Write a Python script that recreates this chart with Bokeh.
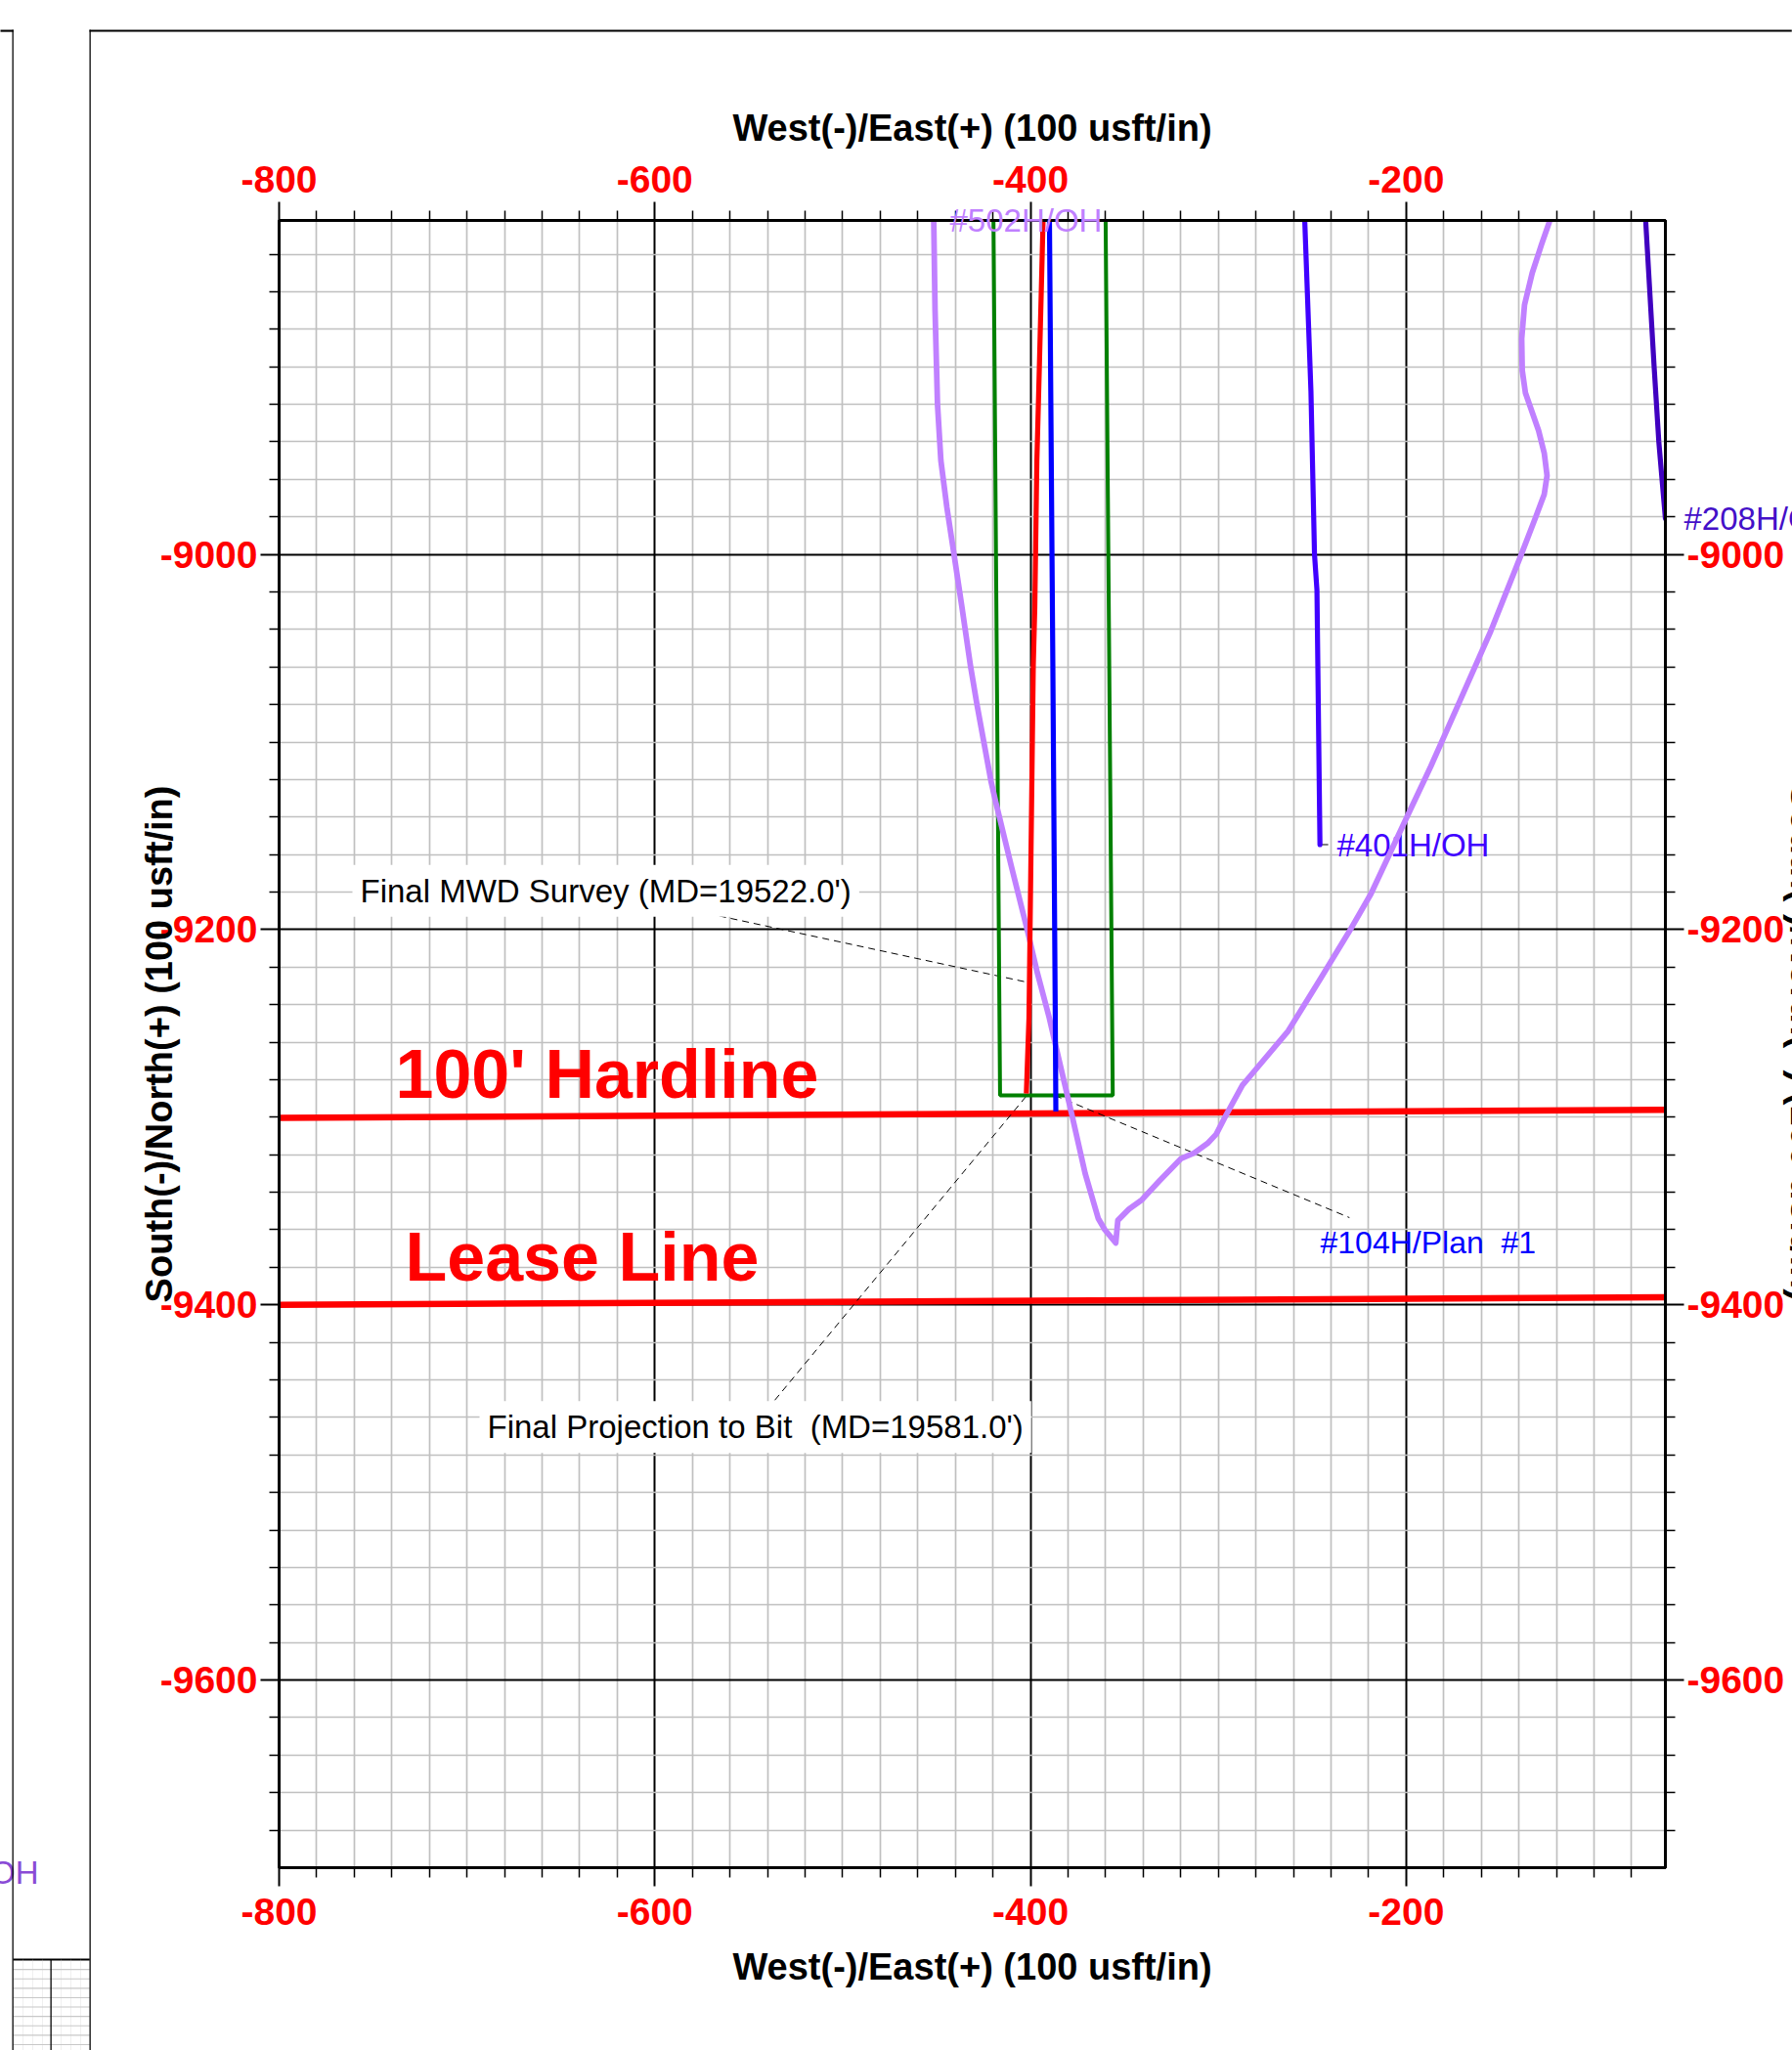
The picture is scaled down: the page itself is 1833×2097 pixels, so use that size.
from bokeh.plotting import figure
from bokeh.models import Range1d, LinearAxis, FixedTicker, Label
from bokeh.embed import file_html
from bokeh.resources import INLINE
from bokeh.core.properties import value

FONT = "Liberation Sans"

# ---------------- axes / ticks ----------------
x_start, x_end = -800, -62
y_start, y_end = -9700, -8822
x_major_ticks = [-800, -600, -400, -200]
x_tick_labels = ["-800", "-600", "-400", "-200"]
y_major_ticks = [-9600, -9400, -9200, -9000]
y_tick_labels = ["-9600", "-9400", "-9200", "-9000"]
x_minor_ticks = [v for v in range(-780, -60, 20) if v not in x_major_ticks]
y_minor_ticks = [v for v in range(-9680, -8820, 20) if v not in y_major_ticks]
x_title = "West(-)/East(+) (100 usft/in)"
y_title = "South(-)/North(+) (100 usft/in)"

# ---------------- well paths ----------------
w502_x = [-451.5, -450.8, -449.5, -447.7, -444.5, -440.7, -436.5, -432.0, -428.5, -421.0,
          -418.5, -410.0, -401.5, -396.6, -390.0, -387.0, -377.9, -370.9, -363.9, -360.4,
          -354.6, -353.5, -347.6, -340.7, -331.4, -319.8, -312.8, -305.8, -301.1, -296.5,
          -287.2, -262.8, -245.5, -230.3, -218.8, -200.1, -186.9, -172.7, -155.0, -138.7,
          -131.0, -126.5, -125.0, -126.5, -129.5, -133.0, -136.5, -138.2, -138.5, -137.0,
          -132.9, -128.0, -123.5]
w502_y = [-8822, -8870, -8920, -8950, -8975, -9000, -9028, -9059, -9080, -9121,
          -9132, -9167, -9201, -9222, -9247, -9260, -9299, -9330, -9354, -9360,
          -9367, -9355, -9349, -9344, -9334, -9322, -9319, -9314, -9309, -9300,
          -9283, -9254, -9226, -9201, -9181, -9141, -9113, -9081, -9041, -9000,
          -8980, -8968, -8958, -8946, -8934, -8924, -8914, -8902, -8885, -8867,
          -8850, -8835, -8822]

target_x = [-419.7, -416.2, -356.2, -360.0]
target_y = [-8822, -9288.3, -9288.3, -8822]

survey_x = [-393.3, -395.3, -396.6, -397.7, -398.5, -400.8, -402.2]
survey_y = [-8822, -8901, -8950, -9028, -9059, -9247, -9287.4]

plan104_x = [-389.9, -388.1, -386.8, -386.5]
plan104_y = [-8822, -9059, -9247, -9297]

w401_x = [-254.0, -250.7, -248.8, -247.5, -245.9]
w401_y = [-8822, -8913, -9000, -9019, -9154.7]

w208_x = [-72.5, -68.0, -65.5, -62.0]
w208_y = [-8822, -8900, -8940, -8981]

hardline_x = [-800, -62]
hardline_y = [-9300.4, -9296.0]
lease_x = [-800, -62]
lease_y = [-9400.0, -9396.0]

# leader lines of the annotations
mwd_leader_x = [-565.7, -400.1]
mwd_leader_y = [-9192.7, -9228.4]
proj_leader_x = [-536.1, -401.2]
proj_leader_y = [-9450.8, -9287.5]
plan_leader_x = [-387.0, -230.2]
plan_leader_y = [-9288.4, -9353.5]
w401_tick_x = [-245.9, -241.5]
w401_tick_y = [-9154.7, -9154.7]

# ---------------- figure ----------------
FRAME_L, FRAME_T, FRAME_W, FRAME_H = 285, 225, 1418, 1685   # page pixels
PAGE_W, PAGE_H = 1833, 2097

p = figure(frame_width=FRAME_W, frame_height=FRAME_H,
           min_border_left=FRAME_L, min_border_top=FRAME_T,
           min_border_right=PAGE_W - FRAME_L - FRAME_W,
           min_border_bottom=PAGE_H - FRAME_T - FRAME_H,
           x_range=Range1d(x_start, x_end), y_range=Range1d(y_start, y_end),
           output_backend="svg", toolbar_location=None,
           background_fill_color="white", border_fill_color="white",
           outline_line_color="black", outline_line_width=3)

def page_x(X):
    return x_start + (X - FRAME_L) * (x_end - x_start) / FRAME_W

def page_y(Y):
    return y_end - (Y - FRAME_T) * (y_end - y_start) / FRAME_H

xt = FixedTicker(ticks=x_major_ticks, minor_ticks=x_minor_ticks)
yt = FixedTicker(ticks=y_major_ticks, minor_ticks=y_minor_ticks)

for g, t in ((p.xgrid[0], xt), (p.ygrid[0], yt)):
    g.ticker = t
    g.grid_line_color = "black"
    g.grid_line_width = 2
    g.minor_grid_line_color = "#c0c0c0"
    g.minor_grid_line_width = 1.7

p.add_layout(LinearAxis(), "above")
p.add_layout(LinearAxis(), "right")

def style_axis(ax, ticker, ticks, labels):
    ax.ticker = ticker
    ax.major_label_overrides = dict(zip(ticks, labels))
    ax.major_label_text_font = FONT
    ax.major_label_text_font_style = "bold"
    ax.major_label_text_font_size = "39px"
    ax.major_label_text_color = "#ff0000"
    ax.major_tick_in = 0
    ax.major_tick_out = 19
    ax.minor_tick_in = 0
    ax.minor_tick_out = 10
    ax.major_tick_line_width = 2
    ax.minor_tick_line_width = 1.5
    ax.major_tick_line_color = "black"
    ax.minor_tick_line_color = "black"
    ax.axis_line_width = 3
    ax.axis_line_color = "black"
    ax.axis_label_text_font = FONT
    ax.axis_label_text_font_style = "bold"
    ax.axis_label_text_font_size = "38px"
    ax.axis_label_text_color = "black"

for ax in p.below + p.above:
    style_axis(ax, xt, x_major_ticks, x_tick_labels)
for ax in p.left + p.right:
    style_axis(ax, yt, y_major_ticks, y_tick_labels)

p.below[0].axis_label = x_title
p.below[0].major_label_standoff = 12
p.below[0].axis_label_standoff = 19
p.above[0].axis_label = x_title
p.above[0].major_label_standoff = 10
p.above[0].axis_label_standoff = 15
p.left[0].axis_label = y_title
p.left[0].major_label_standoff = 3
p.left[0].axis_label_standoff = -23
p.right[0].major_label_standoff = 3

# ---------------- glyphs ----------------
p.line(hardline_x, hardline_y, line_color="#ff0000", line_width=6.5)
p.line(lease_x, lease_y, line_color="#ff0000", line_width=6.5)

p.text(x=[page_x(1367)], y=[page_y(863.6)], text=["#401H/OH"], text_color="#4000ff",
       text_font=value(FONT), text_font_size="33px", text_baseline="middle")
p.text(x=[page_x(1350)], y=[page_y(1270.9)], text=["#104H/Plan \u00a0#1"], text_color="#0000ff",
       text_font=value(FONT), text_font_size="32px", text_baseline="middle")
p.text(x=[page_x(404)], y=[page_y(1098.9)], text=["100' Hardline"], text_color="#ff0000",
       text_font=value(FONT), text_font_style="bold", text_font_size="70px",
       text_baseline="middle")
p.text(x=[page_x(414)], y=[page_y(1285.8)], text=["Lease Line"], text_color="#ff0000",
       text_font=value(FONT), text_font_style="bold", text_font_size="70px",
       text_baseline="middle")

for lx, ly in ((mwd_leader_x, mwd_leader_y), (proj_leader_x, proj_leader_y),
               (plan_leader_x, plan_leader_y)):
    p.line(lx, ly, line_color="black", line_width=1, line_dash="7 5")
p.line(w401_tick_x, w401_tick_y, line_color="black", line_width=1)

p.line(target_x, target_y, line_color="#008000", line_width=4)
p.line(w502_x, w502_y, line_color="#c080ff", line_width=5.8, line_cap="round", line_join="round")
p.line(w401_x, w401_y, line_color="#4000ff", line_width=5.2, line_cap="round")
p.line(w208_x, w208_y, line_color="#4000c0", line_width=5.2, line_cap="round")
p.line(plan104_x, plan104_y, line_color="#0000ff", line_width=5.2)
p.line(survey_x, survey_y, line_color="#ff0000", line_width=5.2)

# ---------------- annotations inside the frame ----------------
p.add_layout(Label(x=page_x(368 - 8), y=page_y(910.8), text="Final MWD Survey (MD=19522.0')",
                   text_font=FONT, text_font_size="33px", text_color="black",
                   text_baseline="middle", background_fill_color="white", padding=8))
p.add_layout(Label(x=page_x(498 - 8), y=page_y(1459.2),
                   text="Final Projection to Bit \u00a0(MD=19581.0')",
                   text_font=FONT, text_font_size="33px", text_color="black",
                   text_baseline="middle", background_fill_color="white", padding=8))

# ---------------- texts / sheet frame outside the frame (canvas units, side panels) ----------------
def canvas_label(panel, X, Y, text, color, align="left"):
    p.add_layout(Label(x=X, y=Y, x_units="canvas", y_units="canvas", text=text,
                       text_align=align, text_baseline="middle", text_font=FONT,
                       text_font_size="33px", text_color=color), panel)

canvas_label("above", 971, 225, "#502H/OH", "#c080ff")
canvas_label("above", 1722, 530.4, "#208H/OH", "#4410c8")
canvas_label("left", 39, 1915, "OH", "#8a4bd6", align="right")

# right-hand axis title, mostly beyond the page edge as in the reference
p.add_layout(Label(x=1844, y=1066, x_units="canvas", y_units="canvas", text=y_title,
                   angle=-90, angle_units="deg", text_align="center", text_baseline="middle",
                   text_font=FONT, text_font_style="bold", text_font_size="38px",
                   text_color="black"), "left")

def rect(panel, x0, y0, x1, y1, color):
    p.add_layout(Label(x=x0, y=y0, x_units="canvas", y_units="canvas", text=" ",
                       text_font=FONT, text_font_size="1px", text_align="left",
                       text_baseline="top", background_fill_color=color,
                       border_line_color=None,
                       padding=dict(left=0, top=0, right=max(int(round(x1 - x0)) - 1, 0),
                                    bottom=max(int(round(y1 - y0)) - 1, 0))), panel)

# sheet frames
rect("above", 91, 30, PAGE_W, 32, "black")
rect("above", 0, 30, 14, 32, "black")
rect("left", 91, 30, 93, PAGE_H, "black")
rect("left", 12, 30, 14, PAGE_H, "black")
# small grid block at the lower left of the neighbouring sheet
for k in range(1, 4):
    rect("left", 13 + 10 * k, 2004, 14 + 10 * k, PAGE_H, "#c8c8c8")
    rect("left", 52 + 10 * k, 2004, 53 + 10 * k, PAGE_H, "#c8c8c8")
for k in range(1, 10):
    rect("below", 13, 2004 + 9.6 * k, 92, 2005 + 9.6 * k, "#c8c8c8")
rect("below", 13, 2003, 92, 2005, "black")
rect("left", 51, 2004, 53, PAGE_H, "black")

open("out.html", "w").write(file_html(p, INLINE))
